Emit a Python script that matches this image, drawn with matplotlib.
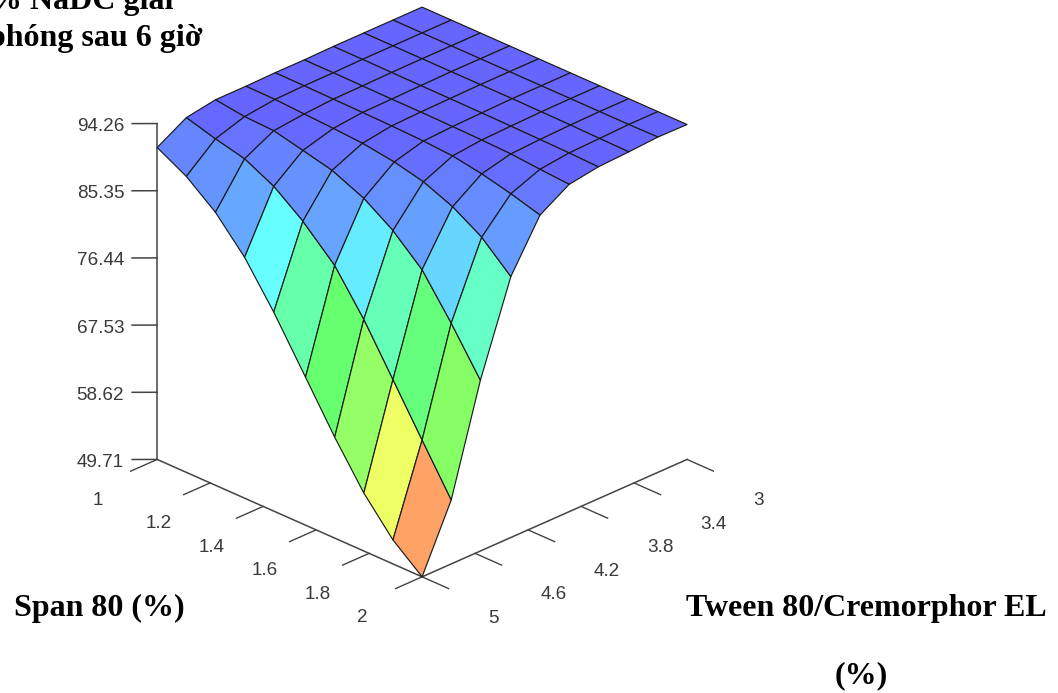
import matplotlib
matplotlib.use('Agg')
import matplotlib.pyplot as plt
import numpy as np
from matplotlib.colors import LinearSegmentedColormap

span = [1, 1.11, 1.22, 1.33, 1.44, 1.56, 1.67, 1.78, 1.89, 2]
tween = [3, 3.22, 3.44, 3.67, 3.89, 4.11, 4.33, 4.56, 4.78, 5]

# one row per tween value, one column per span value
release = [
    [94.13, 94.13, 94.13, 94.13, 94.13, 94.13, 94.13, 94.13, 94.13, 94.13],
    [94.13, 94.13, 94.13, 94.13, 94.13, 94.13, 94.13, 94.13, 94.13, 94.18],
    [94.13, 94.13, 94.13, 94.13, 94.13, 94.13, 94.10, 94.06, 93.99, 93.93],
    [94.13, 94.13, 94.10, 94.07, 94.06, 94.03, 93.99, 93.93, 93.86, 93.73],
    [94.06, 94.06, 94.03, 93.99, 93.99, 93.93, 93.86, 93.73, 93.40, 93.12],
    [94.07, 94.05, 93.99, 93.93, 93.86, 93.72, 93.46, 92.80, 91.87, 90.76],
    [93.99, 93.95, 93.73, 93.53, 93.27, 92.66, 91.74, 90.15, 87.82, 84.32],
    [93.99, 93.46, 93.30, 92.40, 91.47, 89.62, 87.07, 83.59, 78.22, 72.36],
    [93.33, 92.22, 91.29, 89.35, 86.44, 82.46, 77.02, 70.74, 64.43, 58.20],
    [91.08, 88.96, 85.91, 81.66, 76.10, 69.33, 63.10, 57.40, 52.89, 49.71],
]

z_ticks = [94.26, 85.35, 76.44, 67.53, 58.62, 49.71]
span_ticks = [1, 1.2, 1.4, 1.6, 1.8, 2]
tween_ticks = [3, 3.4, 3.8, 4.2, 4.6, 5]

# colour stops
colours = [(0, '#ff6666'), (0.087, '#ff6666'), (0.148, '#ffa566'), (0.235, '#ffff66'),
           (0.40, '#8cff66'), (0.50, '#66ff66'), (0.648, '#66ffaa'), (0.696, '#66ffc8'),
           (0.756, '#66ffff'), (0.79, '#66d8ff'), (0.838, '#66a8ff'), (0.935, '#6688ff'),
           (0.985, '#6666ff'), (1, '#6666ff')]
cmap = LinearSegmentedColormap.from_list('rainbow5', colours)

zmin, zmax = min(z_ticks), max(z_ticks)
axis_col = '#444444'
label_col = '#3a3a3a'

fig = plt.figure(figsize=(10.58, 6.93), dpi=100)
ax = fig.add_axes([114 / 1058, 93.4 / 693, 600 / 1058, 600 / 693], projection='3d')
ax.set_proj_type('ortho')
ax.view_init(elev=26.3, azim=45)
ax.set_box_aspect((1, 1, 1), zoom=1.05)
ax.computed_zorder = False
ax.set_axis_off()

Y, X = np.meshgrid(span, tween)
Z = np.array(release)

# axis lines
ax.plot([5, 5], [1, 1], [zmin, zmax], color=axis_col, lw=1.1, zorder=1)
ax.plot([5, 5], [1, 2], [zmin, zmin], color=axis_col, lw=1.1, zorder=1)
ax.plot([3, 5], [2, 2], [zmin, zmin], color=axis_col, lw=1.1, zorder=1)

# ticks and their labels
for v in z_ticks:
    ax.plot([5, 5.095], [1, 0.953], [v, v], color=axis_col, lw=1.1, zorder=1)
    ax.text(5.125, 0.938, v - 0.4, '%.2f' % v, ha='right', va='center',
            fontsize=13.6, color=label_col, family='Liberation Sans')
for v in span_ticks:
    ax.plot([5, 5.2], [v, v], [zmin, zmin], color=axis_col, lw=1, zorder=1)
    ax.text(5.49, v, zmin - 1.6, '%g' % v, ha='left', va='center',
            fontsize=13.6, color=label_col, family='Liberation Sans')
for v in tween_ticks:
    ax.plot([v, v], [2, 2.1], [zmin, zmin], color=axis_col, lw=1, zorder=1)
    ax.text(v, 2.248, zmin - 1.6, '%g' % v, ha='left', va='center',
            fontsize=13.6, color=label_col, family='Liberation Sans')

ax.plot_surface(X, Y, Z, rstride=1, cstride=1, cmap=cmap, vmin=zmin, vmax=zmax,
                edgecolor='#1a1a1a', linewidth=0.85, shade=False, zorder=2)

ax.set_xlim(3, 5, view_margin=0)
ax.set_ylim(1, 2, view_margin=0)
ax.set_zlim(zmin, zmax, view_margin=0)


def label(x, y, s, ha='left'):
    fig.text(x / 1058, 1 - y / 693, s, ha=ha, va='baseline', fontsize=23,
             fontweight='bold', family='Liberation Serif', color='black')


label(173, 9, '% NaDC giải', ha='right')
label(203, 46, 'phóng sau 6 giờ', ha='right')
label(14, 616, 'Span 80 (%)')
label(686, 616, 'Tween 80/Cremorphor EL')
label(835, 683, '(%)')

plt.savefig('out.png', dpi=100)
